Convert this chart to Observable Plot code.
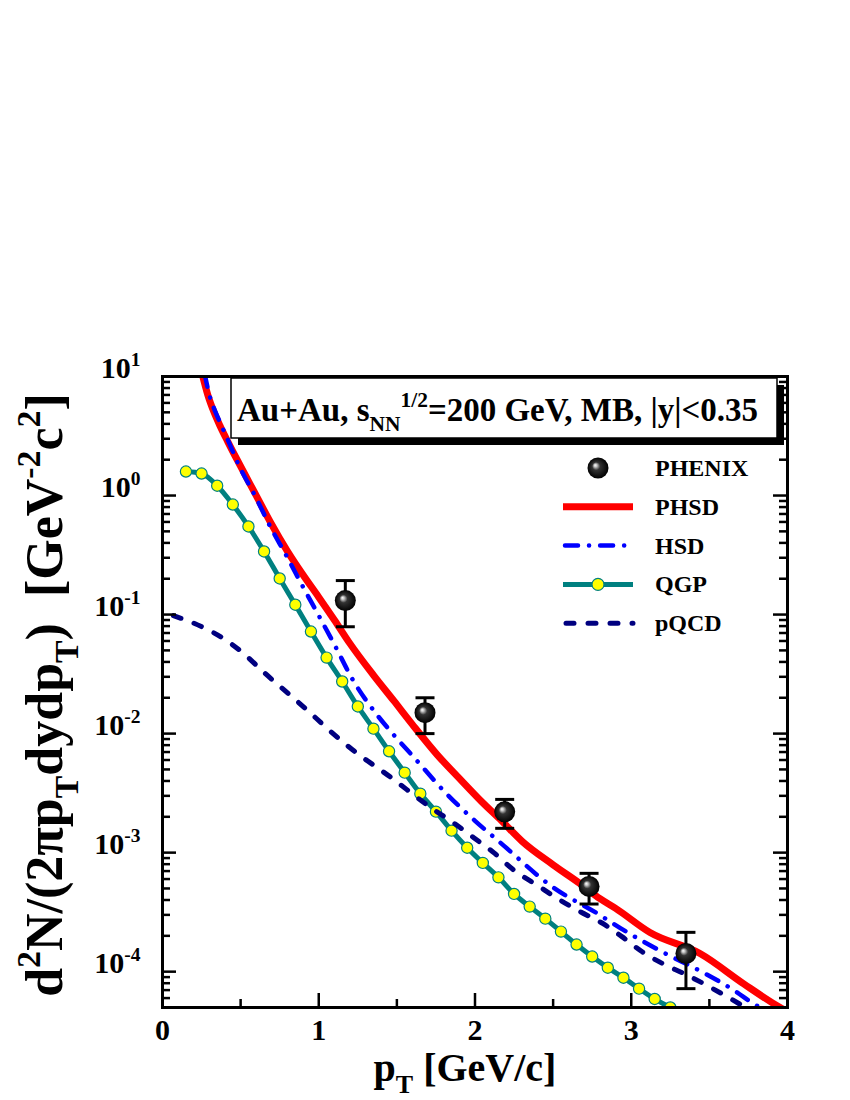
<!DOCTYPE html>
<html><head><meta charset="utf-8">
<script src="https://cdn.jsdelivr.net/npm/d3@7"></script>
<script src="https://cdn.jsdelivr.net/npm/@observablehq/plot@0.6"></script>
<style>
body{margin:0;background:#fff}
svg{font-family:"Liberation Serif","Times New Roman",serif}
</style>
</head><body><div id="chart"></div>
<script>
// ---------- data ----------
const phenixPt = [1.17, 1.68, 2.19, 2.73, 3.35];
const phenixY  = [0.131, 0.015, 0.0022, 0.00052, 0.000142];
const phenixLo = [0.079, 0.010, 0.0016, 0.00037, 0.000072];
const phenixHi = [0.193, 0.020, 0.0028, 0.00067, 0.000214];

const phsdPt = [0.25, 0.29, 0.33, 0.37, 0.42, 0.48, 0.60, 0.69, 0.80, 0.90, 1.00, 1.10, 1.20, 1.35, 1.48, 1.60, 1.76, 1.90, 2.04, 2.17, 2.30, 2.50, 2.68, 2.80, 2.90, 3.12, 3.44, 3.72, 3.92, 4.00];
const phsdY  = [11.0, 7.0, 5.0, 3.8, 2.8, 1.97, 1.0, 0.6, 0.34, 0.215, 0.14, 0.09, 0.057, 0.031, 0.0189, 0.0119, 0.0066, 0.0042, 0.0027, 0.00185, 0.00125, 0.00079, 0.00054, 0.00041, 0.00034, 0.000213, 0.000142, 0.000079, 0.000053, 0.000046];

const hsdPt = [0.27, 0.30, 0.34, 0.38, 0.43, 0.48, 0.60, 0.68, 0.80, 0.90, 1.00, 1.10, 1.22, 1.38, 1.50, 1.61, 1.82, 2.00, 2.16, 2.50, 2.78, 2.96, 3.21, 3.45, 3.67, 3.78, 3.85];
const hsdY  = [10.5, 7.0, 5.0, 3.8, 2.7, 1.9, 0.95, 0.58, 0.30, 0.17, 0.098, 0.056, 0.028, 0.0140, 0.0091, 0.0063, 0.0031, 0.00185, 0.00122, 0.00051, 0.00031, 0.00022, 0.000144, 0.0001, 0.000068, 0.000054, 0.000048];

const qgpPt = [0.15, 0.25, 0.35, 0.45, 0.55, 0.65, 0.75, 0.85, 0.95, 1.05, 1.15, 1.25, 1.35, 1.45, 1.55, 1.65, 1.75, 1.85, 1.95, 2.05, 2.15, 2.25, 2.35, 2.45, 2.55, 2.65, 2.75, 2.85, 2.95, 3.05, 3.15, 3.25];
const qgpY  = [1.59, 1.53, 1.21, 0.84, 0.55, 0.339, 0.201, 0.121, 0.072, 0.0435, 0.0274, 0.0169, 0.011, 0.0071, 0.0047, 0.00313, 0.00221, 0.00153, 0.0011, 0.00082, 0.00062, 0.00045, 0.000352, 0.000279, 0.000217, 0.000169, 0.000134, 0.000108, 0.000089, 0.000072, 0.000059, 0.000050];

const pqcdPt = [0.07, 0.26, 0.39, 0.52, 0.65, 0.80, 0.93, 1.056, 1.20, 1.46, 1.715, 1.86, 1.99, 2.12, 2.25, 2.40, 2.53, 2.66, 2.83, 2.94, 3.07, 3.20, 3.34, 3.61, 3.72, 3.80];
const pqcdY  = [0.098, 0.078, 0.063, 0.047, 0.0326, 0.022, 0.0156, 0.011, 0.0076, 0.0043, 0.0024, 0.00179, 0.00134, 0.001, 0.00071, 0.00053, 0.00041, 0.000326, 0.000248, 0.000197, 0.000147, 0.000117, 0.000096, 0.000062, 0.000051, 0.000044];

const xMajor = [0, 1, 2, 3, 4];
const xMinor = [0.5, 1.5, 2.5, 3.5];
const yDecades = [1e-4, 1e-3, 1e-2, 1e-1, 1, 10];
const yMultipliers = [2, 3, 4, 5, 6, 7, 8, 9];
const yDomain = [5e-5, 10];

const legendLabels = ["PHENIX", "PHSD", "HSD", "QGP", "pQCD"];
const titleText = "Au+Au, s_{NN}^{1/2}=200 GeV, MB, |y|<0.35";
const xTitle = "p_{T} [GeV/c]";
const yTitle = "d^{2}N/(2πp_{T}dydp_{T})  [GeV^{-2}c^{2}]";

// ---------- tables ----------
const zip = (xs, ys) => xs.map((x, i) => ({x, y: ys[i]}));
const phsd = zip(phsdPt, phsdY), hsd = zip(hsdPt, hsdY), qgp = zip(qgpPt, qgpY), pqcd = zip(pqcdPt, pqcdY);
const phenix = phenixPt.map((x, i) => ({x, y: phenixY[i], lo: phenixLo[i], hi: phenixHi[i]}));
const yMinor = [0.00001, ...yDecades].flatMap(d => yMultipliers.map(m => m * d)).filter(v => v > yDomain[0] && v < yDomain[1]);

// ---------- layout ----------
const W = 850, H = 1100, mL = 162, mR = 63, mT = 376, mB = 93;
const fw = W - mL - mR, fh = H - mT - mB;
const majLen = 14, minLen = 8;

const capSymbol = {draw(ctx, size) { const w = Math.sqrt(size / Math.PI); ctx.moveTo(-w, 0); ctx.lineTo(w, 0); }};

const chart = Plot.plot({
  width: W, height: H,
  marginLeft: mL, marginRight: mR, marginTop: mT, marginBottom: mB,
  style: {background: "white", fontFamily: "'Liberation Serif','Times New Roman',serif", color: "black"},
  x: {domain: [0, 4]},
  y: {type: "log", domain: yDomain},
  marks: [
    Plot.line(qgp, {x: "x", y: "y", stroke: "#008080", strokeWidth: 5, curve: "monotone-x", clip: true}),
    Plot.dot(qgp, {x: "x", y: "y", r: 5.6, fill: "#ffff00", stroke: "#008080", strokeWidth: 1.2, clip: true}),
    Plot.line(pqcd, {x: "x", y: "y", stroke: "#000080", strokeWidth: 5, strokeDasharray: "8 14", strokeLinecap: "round", curve: "monotone-x", clip: true}),
    Plot.line(phsd, {x: "x", y: "y", stroke: "#ff0000", strokeWidth: 7, curve: "monotone-x", clip: true}),
    Plot.line(hsd, {x: "x", y: "y", stroke: "#0000ff", strokeWidth: 4.5, strokeDasharray: "13 11 0.1 11", strokeLinecap: "round", curve: "monotone-x", clip: true}),
    Plot.ruleX(phenix, {x: "x", y1: "lo", y2: "hi", stroke: "black", strokeWidth: 3}),
    Plot.dot(phenix, {x: "x", y: "lo", symbol: capSymbol, r: 9.5, stroke: "black", strokeWidth: 3, fill: "none"}),
    Plot.dot(phenix, {x: "x", y: "hi", symbol: capSymbol, r: 9.5, stroke: "black", strokeWidth: 3, fill: "none"}),
    Plot.dot(phenix, {x: "x", y: "y", r: 10.5, fill: "url(#sph)", stroke: "none"}),
    // inward ticks on all four sides
    Plot.tickX(xMajor, {x: d => d, insetTop: fh - majLen, stroke: "black", strokeWidth: 2.5}),
    Plot.tickX(xMinor, {x: d => d, insetTop: fh - minLen, stroke: "black", strokeWidth: 2.5}),
    Plot.tickX(xMajor, {x: d => d, insetBottom: fh - majLen, stroke: "black", strokeWidth: 2.5}),
    Plot.tickX(xMinor, {x: d => d, insetBottom: fh - minLen, stroke: "black", strokeWidth: 2.5}),
    Plot.tickY(yDecades, {y: d => d, insetRight: fw - majLen, stroke: "black", strokeWidth: 2.5}),
    Plot.tickY(yMinor, {y: d => d, insetRight: fw - minLen, stroke: "black", strokeWidth: 2.5}),
    Plot.tickY(yDecades, {y: d => d, insetLeft: fw - majLen, stroke: "black", strokeWidth: 2.5}),
    Plot.tickY(yMinor, {y: d => d, insetLeft: fw - minLen, stroke: "black", strokeWidth: 2.5}),
    Plot.frame({stroke: "black", strokeWidth: 3}),
    Plot.axisX({ticks: xMajor, tickSize: 0, tickPadding: 11, fontSize: 30, fontWeight: "bold", label: null, tickFormat: d => String(d)}),
    Plot.axisY({ticks: yDecades, tickSize: 0, tickPadding: 22, fontSize: 30, fontWeight: "bold", label: null, dy: -8,
      tickFormat: d => `10^{${Math.round(Math.log10(d))}}`}),
    Plot.text([xTitle], {frameAnchor: "bottom", textAnchor: "middle", dy: 61, dx: -10, fontSize: 40, fontWeight: "bold", lineAnchor: "middle"}),
    Plot.text([yTitle], {frameAnchor: "left", textAnchor: "middle", dx: -117, dy: 3, rotate: -90, fontSize: 52, fontWeight: "bold", lineAnchor: "middle"})
  ]
});

document.getElementById("chart").appendChild(chart);
const svg = d3.select(chart);

// gradient for the spherical data markers
const defs = svg.insert("defs", ":first-child");
const g = defs.append("radialGradient").attr("id", "sph").attr("cx", "0.5").attr("cy", "0.5").attr("r", "0.5").attr("fx", "0.36").attr("fy", "0.36");
g.append("stop").attr("offset", "0%").attr("stop-color", "#ffffff");
g.append("stop").attr("offset", "14%").attr("stop-color", "#c8c8c8");
g.append("stop").attr("offset", "38%").attr("stop-color", "#333333");
g.append("stop").attr("offset", "100%").attr("stop-color", "#000000");

// inset title box with shadow
const deco = svg.append("g").attr("text-anchor", "start");
deco.append("rect").attr("x", 238).attr("y", 385).attr("width", 546).attr("height", 60).attr("fill", "black");
deco.append("rect").attr("x", 231).attr("y", 378).attr("width", 546).attr("height", 60).attr("fill", "white").attr("stroke", "black").attr("stroke-width", 1.5);
deco.append("text").attr("x", 237).attr("y", 421).attr("text-anchor", "start").attr("font-size", 33).attr("font-weight", "bold").text(titleText);

// legend
const lx0 = 563, lx1 = 633, lcx = 598, ltx = 655, ly0 = 468, lstep = 38.8;
const rowY = i => ly0 + i * lstep;
deco.append("circle").attr("cx", lcx).attr("cy", rowY(0)).attr("r", 10.5).attr("fill", "url(#sph)");
deco.append("line").attr("x1", lx0).attr("x2", lx1).attr("y1", rowY(1)).attr("y2", rowY(1)).attr("stroke", "#ff0000").attr("stroke-width", 7);
deco.append("line").attr("x1", lx0 + 2).attr("x2", lx1).attr("y1", rowY(2)).attr("y2", rowY(2)).attr("stroke", "#0000ff").attr("stroke-width", 4.5).attr("stroke-dasharray", "13 11 0.1 11").attr("stroke-linecap", "round");
deco.append("line").attr("x1", lx0).attr("x2", lx1).attr("y1", rowY(3)).attr("y2", rowY(3)).attr("stroke", "#008080").attr("stroke-width", 5);
deco.append("circle").attr("cx", lcx).attr("cy", rowY(3)).attr("r", 6).attr("fill", "#ffff00").attr("stroke", "#008080").attr("stroke-width", 1.2);
deco.append("line").attr("x1", lx0 + 3).attr("x2", lx1).attr("y1", rowY(4)).attr("y2", rowY(4)).attr("stroke", "#000080").attr("stroke-width", 5).attr("stroke-dasharray", "8 14").attr("stroke-linecap", "round");
legendLabels.forEach((t, i) => {
  deco.append("text").attr("x", ltx).attr("y", rowY(i) + 8).attr("text-anchor", "start").attr("font-size", 24).attr("font-weight", "bold").text(t);
});

// rich text: ^{..} superscripts and _{..} subscripts
function richify(el) {
  const src = el.textContent;
  if (!/[\^_]\{/.test(src)) return;
  const fs = parseFloat(getComputedStyle(el).fontSize);
  const toks = src.match(/\^\{[^}]*\}|_\{[^}]*\}|[^\^_]+/g);
  while (el.firstChild) el.removeChild(el.firstChild);
  let cur = 0;
  for (const t of toks) {
    let txt = t, shift = 0, size = null;
    if (t.startsWith("^{")) { txt = t.slice(2, -1); shift = -0.42 * fs; size = 0.65 * fs; }
    else if (t.startsWith("_{")) { txt = t.slice(2, -1); shift = 0.3 * fs; size = 0.65 * fs; }
    const ts = document.createElementNS("http://www.w3.org/2000/svg", "tspan");
    ts.textContent = txt;
    const d = shift - cur;
    if (d) ts.setAttribute("dy", d.toFixed(2));
    if (size) ts.setAttribute("font-size", size.toFixed(2));
    el.appendChild(ts);
    cur = shift;
  }
}
chart.querySelectorAll("text").forEach(richify);
</script>
</body></html>
